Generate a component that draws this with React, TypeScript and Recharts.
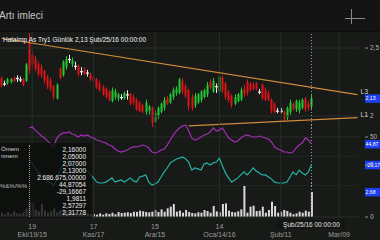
import React from 'react';
import { ComposedChart, Bar, Line, XAxis, YAxis, ReferenceLine } from 'recharts';

// daily candles, Eki/05/15 .. Şub/25/16
const opens = [
  2.28, 2.24, 2.24, 2.25, 2.28, 2.28, 2.27, 2.27, 2.26, 2.55,
  2.45, 2.42, 2.38, 2.36, 2.33, 2.29, 2.26, 2.22, 2.13, 2.35,
  2.30, 2.36, 2.42, 2.38, 2.37, 2.37, 2.33, 2.34, 2.32, 2.31,
  2.29, 2.27, 2.24, 2.21, 2.20, 2.18, 2.11, 2.14, 2.13, 2.14,
  2.13, 2.16, 2.16, 2.14, 2.12, 2.10, 2.08, 2.03, 2.04, 2.06,
  1.96, 2.00, 2.03, 2.06, 2.13, 2.10, 2.14, 2.17, 2.17, 2.26,
  2.22, 2.19, 2.14, 2.08, 2.10, 2.12, 2.14, 2.16, 2.25, 2.18,
  2.22, 2.18, 2.28, 2.24, 2.18, 2.15, 2.09, 2.11, 2.12, 2.20,
  2.25, 2.24, 2.23, 2.24, 2.18, 2.23, 2.19, 2.17, 2.12, 2.09,
  2.04, 2.04, 2.03, 1.99, 2.03, 2.09, 2.05, 2.04, 2.06, 2.13,
  2.09, 2.07,
];
const highs = [
  2.29, 2.26, 2.28, 2.28, 2.29, 2.30, 2.29, 2.28, 2.39, 2.61,
  2.48, 2.44, 2.40, 2.38, 2.34, 2.30, 2.28, 2.23, 2.24, 2.36,
  2.41, 2.44, 2.45, 2.43, 2.40, 2.38, 2.36, 2.36, 2.34, 2.32,
  2.30, 2.28, 2.26, 2.23, 2.21, 2.19, 2.21, 2.20, 2.17, 2.16,
  2.18, 2.19, 2.17, 2.16, 2.13, 2.11, 2.09, 2.12, 2.08, 2.07,
  2.04, 2.07, 2.10, 2.14, 2.15, 2.17, 2.21, 2.22, 2.28, 2.28,
  2.24, 2.20, 2.16, 2.17, 2.17, 2.19, 2.20, 2.25, 2.27, 2.28,
  2.24, 2.30, 2.30, 2.25, 2.19, 2.16, 2.16, 2.17, 2.21, 2.23,
  2.27, 2.25, 2.25, 2.25, 2.20, 2.24, 2.21, 2.19, 2.13, 2.10,
  2.06, 2.06, 2.04, 2.07, 2.12, 2.10, 2.12, 2.12, 2.13, 2.14,
  2.11, 2.16,
];
const lows = [
  2.21, 2.22, 2.23, 2.24, 2.25, 2.25, 2.25, 2.22, 2.25, 2.31,
  2.36, 2.33, 2.29, 2.28, 2.24, 2.20, 2.18, 2.12, 2.12, 2.27,
  2.29, 2.34, 2.39, 2.36, 2.34, 2.29, 2.30, 2.30, 2.29, 2.26,
  2.25, 2.20, 2.18, 2.15, 2.13, 2.11, 2.10, 2.12, 2.11, 2.12,
  2.12, 2.12, 2.08, 2.08, 2.04, 2.03, 2.02, 2.01, 2.01, 1.92,
  1.95, 1.98, 2.02, 2.04, 2.08, 2.09, 2.12, 2.15, 2.16, 2.16,
  2.13, 2.04, 2.04, 2.06, 2.09, 2.10, 2.13, 2.14, 2.20, 2.17,
  2.17, 2.17, 2.17, 2.12, 2.10, 2.06, 2.08, 2.10, 2.11, 2.14,
  2.15, 2.18, 2.19, 2.19, 2.16, 2.12, 2.11, 2.11, 2.02, 2.02,
  2.02, 2.02, 1.96, 1.97, 2.01, 2.04, 2.03, 2.02, 2.05, 2.03,
  2.04, 2.05,
];
const closes = [
  2.22, 2.24, 2.27, 2.27, 2.26, 2.28, 2.27, 2.23, 2.38, 2.34,
  2.38, 2.35, 2.31, 2.30, 2.26, 2.22, 2.20, 2.14, 2.23, 2.28,
  2.40, 2.42, 2.42, 2.41, 2.37, 2.31, 2.33, 2.31, 2.32, 2.27,
  2.26, 2.21, 2.19, 2.16, 2.14, 2.12, 2.19, 2.18, 2.16, 2.14,
  2.17, 2.16, 2.09, 2.10, 2.05, 2.04, 2.03, 2.10, 2.07, 1.95,
  2.02, 2.06, 2.09, 2.12, 2.09, 2.16, 2.19, 2.20, 2.27, 2.18,
  2.15, 2.07, 2.06, 2.15, 2.16, 2.18, 2.19, 2.23, 2.21, 2.26,
  2.22, 2.29, 2.19, 2.14, 2.12, 2.08, 2.14, 2.16, 2.19, 2.16,
  2.17, 2.19, 2.20, 2.20, 2.18, 2.13, 2.12, 2.12, 2.04, 2.03,
  2.04, 2.04, 1.98, 2.06, 2.10, 2.05, 2.11, 2.10, 2.12, 2.05,
  2.06, 2.13,
];
// volume, millions
const volumes = [
  0.45, 0.3, 0.5, 0.35, 0.6, 0.4, 0.35, 0.5, 0.9, 1.6,
  1.5, 0.8, 0.6, 1.4, 0.7, 0.5, 0.6, 0.9, 0.5, 0.7,
  0.8, 0.6, 0.5, 0.4, 0.45, 0.35, 0.4, 0.3, 0.39, 0.29,
  0.32, 0.25, 0.39, 0.25, 0.39, 0.32, 0.46, 0.29, 0.54, 0.43,
  0.46, 0.5, 0.43, 0.57, 0.54, 0.68, 0.61, 0.54, 0.5, 0.57,
  0.75, 0.54, 0.82, 0.57, 0.93, 1.11, 1.39, 0.57, 0.68, 0.46,
  0.75, 0.54, 0.43, 0.39, 0.5, 0.46, 0.75, 0.64, 0.46, 1.18,
  0.6, 0.5, 1.39, 1.46, 0.68, 0.54, 0.5, 0.61, 0.82, 3.32,
  0.46, 1.11, 1.21, 0.64, 0.68, 1.11, 0.46, 0.75, 1.64, 1.18,
  0.46, 0.57, 0.75, 0.64, 0.46, 0.3, 0.39, 0.57, 0.46, 0.68,
  0.57, 2.687,
];
const rsi = [
  null, null, null, null, null, null, null, null, null,
  56.6, 57.3, 55, 53, 50.7, 49.3, 47, 45, 42.7, 49.3,
  51.5, 53, 53, 53.7, 52.2, 51.5, 50, 51.5, 50.7, 51.5,
  50, 49.3, 47.8, 47.1, 46.3, 45.6, 44.1, 43.4, 41.2, 39.7,
  39, 39.7, 40.5, 41.9, 42.7, 42.7, 43.4, 44.1, 43.4, 41.9,
  39, 38.3, 39, 40.5, 41.2, 44.1, 47.8, 51.5, 54.4, 56.6,
  58.1, 58.8, 54.4, 49.3, 47.8, 48.5, 50, 51.5, 52.2, 53.7,
  56.6, 54.4, 55.1, 56.6, 52.9, 49.3, 47.8, 46.3, 47.1, 49.3,
  50.7, 51.5, 50.7, 50, 50, 50.7, 50, 49.3, 48.5, 46.3,
  42.7, 41.2, 40.5, 39, 39, 38.3, 39, 41.9, 44.1, 45.6,
  49.3, 47.8, 44.87,
];
const willR = [
  null, null, null, null, null, null, null, null, null,
  -10, -25, -40, -55, -65, -75, -85, -90, -97, -80,
  -50, -30, -20, -22, -30, -38, -45, -43, -47, -50,
  -63, -73, -87, -90, -90, -87, -80, -73, -87, -83,
  -80, -87, -80, -73, -83, -87, -70, -67, -63, -87,
  -97, -93, -87, -70, -53, -40, -23, -17, -10, -7,
  -3, -10, -20, -47, -40, -43, -47, -27, -23, -30,
  -23, -20, -7, -33, -57, -73, -87, -80, -73, -63,
  -53, -63, -53, -40, -50, -57, -63, -63, -70, -77,
  -87, -90, -90, -90, -87, -70, -53, -63, -47, -57,
  -63, -53, -29.17,
];

const tickIdx = [10, 30, 50, 71, 91, 110];
// day numbers under Şub/11 and Mar/09 are hidden behind the cursor date box
const tickDays = ['19', '17', '15', '14', '', ''];
const tickMonths = ['Eki/19/15', 'Kas/17', 'Ara/15', 'Oca/14/16', 'Şub/11', 'Mar/09'];

const upperTrend = [{ x: 0, y: 2.572 }, { x: 116, y: 2.157 }];
const lowerTrend = [{ x: 61, y: 1.927 }, { x: 116, y: 1.988 }];

const readoutNames = ['Ömem', 'nmem'];
const readout = ['2,16000', '2,05000', '2,07000', '2,13000', '2.686.675,00000', '44,87054', '-29,16667', '1,9811', '2,57297', '2,31778'];

const SLOTS = 117;
const CURSOR = closes.length - 1;
const W = 380;
const FONT = '"Liberation Sans", Arial, sans-serif';

const GRID = '#2a2e2a';
const RED = '#dc1419';
const GREEN = '#22c733';
const DOJI = '#ececec';
const PURPLE = '#a52db8';
const TEAL = '#23b2a5';
const ORANGE = '#cf8b3c';
const TAG = '#1d3df0';
const AXIS_TEXT = '#b5b5b5';

const rows = Array.from({ length: SLOTS }, (_, i) => ({
  i,
  range: i < closes.length ? [lows[i], highs[i]] : null,
  o: opens[i],
  h: highs[i],
  l: lows[i],
  c: closes[i],
  vol: i < volumes.length ? volumes[i] : null,
  rsi: i < rsi.length ? rsi[i] : null,
  wr: i < willR.length ? willR[i] : null,
}));

const margin = { top: 0, right: 0, bottom: 0, left: 0 };
const trunc2 = (v: number) => (Math.trunc(v * 100) / 100).toFixed(2).replace('.', ',');

function Candle(props: any) {
  const { x, y, width, height, payload } = props;
  if (!payload || payload.c == null || height == null) return <g />;
  const { o, h, l, c } = payload;
  const k = h - l ? height / (h - l) : 0;
  const px = Math.round(x + width / 2);
  const yO = y + (h - o) * k;
  const yC = y + (h - c) * k;
  const color = c > o ? GREEN : c < o ? RED : DOJI;
  const top = Math.min(yO, yC);
  const bh = Math.max(Math.abs(yC - yO), 1.2);
  const doji = c === o;
  return (
    <g>
      <line x1={px + 0.5} x2={px + 0.5} y1={y} y2={y + height} stroke={color} strokeWidth={1} />
      <rect x={doji ? px - 1 : px - 0.5} y={top} width={doji ? 3 : 2} height={bh} fill={color} />
    </g>
  );
}

function RightTick({ x, y, payload, fmt }: any) {
  return (
    <g>
      <line x1={x + 6} x2={x + 9} y1={y} y2={y} stroke="#8c8c8c" />
      <text x={x + 11} y={y} dy={2.3} fontSize={6.5} fill={AXIS_TEXT} fontFamily={FONT}>
        {fmt(payload.value)}
      </text>
    </g>
  );
}

function ValueTag({ viewBox, text }: any) {
  const x = viewBox.x + viewBox.width + 6;
  const y = viewBox.y;
  return (
    <g>
      <rect x={x} y={y - 4} width={16} height={8.5} fill={TAG} />
      <text x={x + 0.5} y={y} dy={2} fontSize={5.2} fill="#ffffff" fontFamily={FONT}>
        {text}
      </text>
    </g>
  );
}

function TrendLabel({ viewBox, text, falling }: any) {
  const x = viewBox.x + viewBox.width + 3;
  const y = falling ? viewBox.y + viewBox.height : viewBox.y;
  return (
    <text x={x} y={y - 3} dy={2.4} fontSize={7} fill="#d0d0d0" fontFamily={FONT}>
      {text}
    </text>
  );
}

function DateTick({ x, y, payload }: any) {
  const k = tickIdx.indexOf(payload.value);
  return (
    <g fontFamily={FONT} fontSize={7} fill="#9c9c9c" textAnchor="middle">
      {tickDays[k] ? <text x={x} y={y + 11.5}>{tickDays[k]}</text> : null}
      <text x={x} y={y + 19.5}>{tickMonths[k]}</text>
    </g>
  );
}

function CursorLabel({ viewBox }: any) {
  const x = viewBox.x;
  const y = viewBox.y + viewBox.height;
  return (
    <g>
      <rect x={x - 34} y={y + 3} width={68} height={9} fill="#131513" />
      <text x={x} y={y + 10} textAnchor="middle" fontSize={6.5} fill="#e0e0e0" fontFamily={FONT}>
        Şub/25/16 00:00:00
      </text>
    </g>
  );
}

function gridLines() {
  return tickIdx.map((t) => <ReferenceLine key={'g' + t} x={t} stroke={GRID} />);
}

export default function App() {
  return (
    <div style={{ position: 'absolute', left: 0, top: 0, width: W, height: 240, overflow: 'hidden', background: '#171a17', fontFamily: FONT }}>
      <div style={{ position: 'absolute', left: 0, top: 0, width: W, height: 31, background: '#141414', borderBottom: '1px solid #0c0c0c' }}>
        <div style={{ position: 'absolute', left: -1, top: 10, fontSize: 10, color: '#c6c6c6', lineHeight: '12px' }}>Artı imleci</div>
        <div style={{ position: 'absolute', left: 351, top: 9, width: 1, height: 15, background: '#8a8a8a' }} />
        <div style={{ position: 'absolute', left: 345, top: 18, width: 20, height: 1, background: '#8a8a8a' }} />
      </div>

      {/* price panel */}
      <div style={{ position: 'absolute', left: 0, top: 32 }}>
        <ComposedChart width={W} height={96} data={rows} margin={margin}>
          <XAxis dataKey="i" type="category" scale="band" hide />
          <YAxis orientation="right" width={21} domain={[1.912, 2.618]} allowDataOverflow ticks={[2, 2.5]}
            axisLine={false} tickLine={false} tickSize={0} tickMargin={0}
            tick={(p: any) => <RightTick {...p} fmt={(v: number) => String(v).replace('.', ',')} />} />
          {gridLines()}
          <ReferenceLine y={2.5} stroke={GRID} />
          <ReferenceLine y={2} stroke={GRID} />
          <ReferenceLine x={CURSOR} stroke="#a0a0a0" strokeDasharray="1 2" />
          <ReferenceLine segment={upperTrend} stroke={ORANGE} strokeWidth={1.2}
            label={(p: any) => <TrendLabel {...p} text="L3" falling />} />
          <ReferenceLine segment={lowerTrend} stroke={ORANGE} strokeWidth={1.2}
            label={(p: any) => <TrendLabel {...p} text="L1" />} />
          <Bar dataKey="range" isAnimationActive={false} shape={(p: any) => <Candle {...p} />} />
          <ReferenceLine y={closes[CURSOR]} stroke="none"
            label={(p: any) => <ValueTag {...p} text={trunc2(closes[CURSOR])} />} />
        </ComposedChart>
      </div>

      {/* RSI */}
      <div style={{ position: 'absolute', left: 0, top: 124 }}>
        <ComposedChart width={W} height={32} data={rows} margin={margin}>
          <XAxis dataKey="i" type="category" scale="band" hide />
          <YAxis orientation="right" width={21} domain={[36.08, 59.52]} allowDataOverflow ticks={[50]}
            axisLine={false} tickLine={false} tickSize={0} tickMargin={0}
            tick={(p: any) => <RightTick {...p} fmt={(v: number) => String(v)} />} />
          {gridLines()}
          <ReferenceLine y={50} stroke={GRID} />
          <ReferenceLine x={CURSOR} stroke="#a0a0a0" strokeDasharray="1 2" />
          <Line dataKey="rsi" stroke={PURPLE} strokeWidth={1.2} dot={false} isAnimationActive={false} />
          <ReferenceLine y={rsi[CURSOR] as number} stroke="none"
            label={(p: any) => <ValueTag {...p} text={trunc2(rsi[CURSOR] as number)} />} />
        </ComposedChart>
      </div>

      {/* Williams %R */}
      <div style={{ position: 'absolute', left: 0, top: 156 }}>
        <ComposedChart width={W} height={30} data={rows} margin={margin}>
          <XAxis dataKey="i" type="category" scale="band" hide />
          <YAxis orientation="right" width={21} domain={[-100, 0]} allowDataOverflow ticks={[-100, 0]}
            axisLine={false} tickLine={false} tickSize={0} tickMargin={0}
            tick={(p: any) => <RightTick {...p} fmt={(v: number) => String(v)} />} />
          {gridLines()}
          <ReferenceLine y={0} stroke={GRID} />
          <ReferenceLine y={-100} stroke={GRID} />
          <ReferenceLine x={CURSOR} stroke="#a0a0a0" strokeDasharray="1 2" />
          <Line dataKey="wr" stroke={TEAL} strokeWidth={1.2} dot={false} isAnimationActive={false} />
          <ReferenceLine y={willR[CURSOR] as number} stroke="none"
            label={(p: any) => <ValueTag {...p} text={trunc2(willR[CURSOR] as number)} />} />
        </ComposedChart>
      </div>

      {/* volume */}
      <div style={{ position: 'absolute', left: 0, top: 182 }}>
        <ComposedChart width={W} height={58} data={rows} margin={margin}>
          <XAxis dataKey="i" type="category" scale="band" height={23} ticks={tickIdx} interval={0}
            axisLine={false} tickLine={false} tickSize={0} tickMargin={0} tick={(p: any) => <DateTick {...p} />} />
          <YAxis orientation="right" width={21} domain={[0, 3.75]} allowDataOverflow ticks={[0]}
            axisLine={false} tickLine={false} tickSize={0} tickMargin={0}
            tick={(p: any) => <RightTick {...p} fmt={(v: number) => String(v)} />} />
          {gridLines()}
          <ReferenceLine y={0} stroke={GRID} />
          <Bar dataKey="vol" fill="#dadada" barSize={2} isAnimationActive={false} />
          <ReferenceLine x={CURSOR} stroke="#a0a0a0" strokeDasharray="1 2"
            label={(p: any) => <CursorLabel {...p} />} />
          <ReferenceLine y={volumes[CURSOR]} stroke="none"
            label={(p: any) => <ValueTag {...p} text={trunc2(volumes[CURSOR])} />} />
        </ComposedChart>
      </div>

      <div style={{ position: 'absolute', left: 3, top: 36, fontSize: 6.5, color: '#f0f0f0', whiteSpace: 'nowrap', lineHeight: '8px' }}>
        Hatalmp As Try1 Günlük 2,13 Şub/25/16 00:00:00
      </div>

      {/* readout box */}
      <div style={{ position: 'absolute', left: 0, top: 143, width: 92, height: 75, background: 'rgba(13,14,13,0.8)' }}>
        <div style={{ position: 'absolute', left: 29, top: 2, height: 72, borderLeft: '1px dotted #9a9a9a' }} />
        <div style={{ position: 'absolute', left: 1, top: 2.5, fontSize: 6, lineHeight: '7px', color: '#d8d8d8' }}>
          {readoutNames.map((n) => <div key={n}>{n}</div>)}
        </div>
        <div style={{ position: 'absolute', left: 0, top: 40, fontSize: 6, color: '#bdbdbd' }}>%&amp;%/%%</div>
        <div style={{ position: 'absolute', left: 0, top: 2.5, width: 86, textAlign: 'right', fontSize: 6.5, lineHeight: '7px', color: '#ededed' }}>
          {readout.map((r) => <div key={r}>{r}</div>)}
        </div>
      </div>
    </div>
  );
}
